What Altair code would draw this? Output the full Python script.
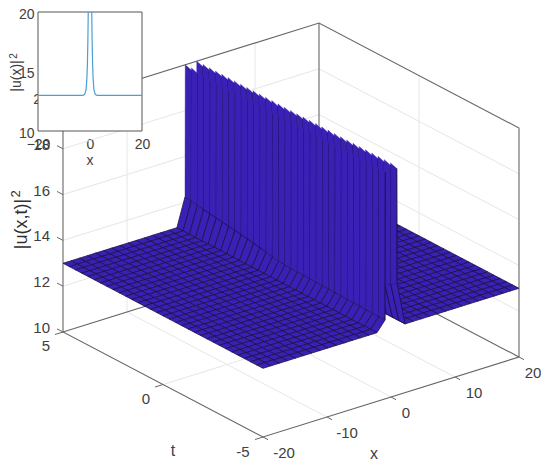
import altair as alt
import pandas as pd

# --- data -------------------------------------------------------------
x_left = [-20.0, -18.73, -17.46, -16.19, -14.91, -13.64, -12.37, -11.1, -9.83, -8.56, -7.29, -6.01, -4.74, -3.47, -2.2]
x_right = [2.2, 3.47, 4.74, 6.01, 7.29, 8.56, 9.83, 11.1, 12.37, 13.64, 14.91, 16.19, 17.46, 18.73, 20.0]
x_shoulder = 0.94
x_clip = 0.9
t_nodes = [5.0, 4.6875, 4.375, 4.0625, 3.75, 3.4375, 3.125, 2.8125, 2.5, 2.1875, 1.875, 1.5625, 1.25, 0.9375, 0.625, 0.3125, 0.0,
           -0.3125, -0.625, -0.9375, -1.25, -1.5625, -1.875, -2.1875, -2.5, -2.8125, -3.125, -3.4375, -3.75, -4.0625, -4.375, -4.6875, -5.0]
z_floor = 13.0
z_top_high = 20.0
z_top_low = 19.9
z_left = [14.23, 14.19, 14.15, 14.11, 14.07, 14.03, 13.99, 13.95, 13.91, 13.87, 13.83, 13.78, 13.73, 13.68, 13.62, 13.58, 13.55,
          13.54, 13.53, 13.53, 13.52, 13.51, 13.51, 13.5, 13.49, 13.49, 13.48, 13.47, 13.47, 13.46, 13.45, 13.45, 13.44]
z_right = [14.6] * 31 + [14.7, 14.9]

x_ticks = [-20, -10, 0, 10, 20]
t_ticks = [-5, 0, 5]
z_ticks = [10, 12, 14, 16, 18, 20]

inset_left_x = [-20, -10, -5, -3, -2.5, -2, -1.5, -1.2, -1, -0.85, -0.75, -0.68]
inset_left_y = [13, 13, 13, 13, 13.02, 13.1, 13.5, 14.4, 15.6, 17.2, 18.6, 20]
inset_right_x = [0.68, 0.75, 0.85, 1, 1.2, 1.5, 2, 2.5, 3, 5, 10, 20]
inset_right_y = [20, 18.6, 17.2, 15.6, 14.4, 13.5, 13.1, 13.02, 13, 13, 13, 13]

FILL = "#3a20b4"
MESH = "#1b1148"
AXIS = "#666666"
GRID = "#e6e6e6"
TEXT = "#404040"
FONT = "Liberation Sans"


def project(x, t, z):
    """Fixed 3-D view of the (x, t, z) box, in picture pixels."""
    return [263 + (x + 20) * 6.4 - (t + 5) * 20.0,
            437 - (x + 20) * 2.0 - (t + 5) * 10.5 - (z - 10) * 22.9]


features = []


def line(points, stroke, width):
    features.append({"type": "Feature",
                     "properties": {"fill": "none", "stroke": stroke, "sw": width},
                     "geometry": {"type": "LineString", "coordinates": [project(*p) for p in points]}})


def quad(points, stroke, width=0.8):
    ring = [project(*p) for p in points]
    ring.append(ring[0])
    features.append({"type": "Feature",
                     "properties": {"fill": FILL, "stroke": stroke, "sw": width},
                     "geometry": {"type": "Polygon", "coordinates": [ring]}})


# grid on the floor and the two back walls
for z in z_ticks[1:-1]:
    line([(-20, 5, z), (20, 5, z), (20, -5, z)], GRID, 1)
for x in x_ticks[1:-1]:
    line([(x, -5, 10), (x, 5, 10), (x, 5, 20)], GRID, 1)
for t in t_ticks[1:-1]:
    line([(-20, t, 10), (20, t, 10), (20, t, 20)], GRID, 1)

# box
line([(-20, 5, 20), (-20, 5, 10), (-20, -5, 10), (20, -5, 10), (20, -5, 20), (20, 5, 20), (-20, 5, 20)], AXIS, 1.1)
line([(-20, 5, 10), (20, 5, 10), (20, -5, 10)], AXIS, 1.1)
line([(20, 5, 10), (20, 5, 20)], AXIS, 1.1)

# ticks
for x in x_ticks:
    line([(x, -5, 10), (x, -5.25, 10)], AXIS, 1)
for t in t_ticks:
    line([(-20, t, 10), (-21.25, t, 10)], AXIS, 1)
for z in z_ticks:
    line([(-20, 5, z), (-20, 5.3, z)], AXIS, 1)

cells = range(len(t_nodes) - 1)

# surface, painted from far to near
for a, b in reversed(list(zip(x_right[:-1], x_right[1:]))):
    for i in cells:
        quad([(a, t_nodes[i], z_floor), (b, t_nodes[i], z_floor), (b, t_nodes[i + 1], z_floor), (a, t_nodes[i + 1], z_floor)], MESH)
for i in cells:
    quad([(x_shoulder, t_nodes[i], z_right[i]), (x_right[0], t_nodes[i], z_floor),
          (x_right[0], t_nodes[i + 1], z_floor), (x_shoulder, t_nodes[i + 1], z_right[i + 1])], MESH)
for i in cells:
    quad([(x_shoulder, t_nodes[i], z_right[i]), (x_clip, t_nodes[i], z_top_high),
          (x_clip, t_nodes[i + 1], z_top_low), (x_shoulder, t_nodes[i + 1], z_right[i + 1])], FILL, 0.4)
    line([(x_shoulder, t_nodes[i + 1], z_right[i + 1]), (x_clip, t_nodes[i + 1], z_top_low)], MESH, 1)
for i in cells:
    quad([(-x_shoulder, t_nodes[i], z_left[i]), (-x_clip, t_nodes[i], z_top_high),
          (-x_clip, t_nodes[i + 1], z_top_low), (-x_shoulder, t_nodes[i + 1], z_left[i + 1])], FILL, 0.4)
    line([(-x_shoulder, t_nodes[i + 1], z_left[i + 1]), (-x_clip, t_nodes[i + 1], z_top_low)], MESH, 1)
for i in cells:
    quad([(x_left[-1], t_nodes[i], z_floor), (-x_shoulder, t_nodes[i], z_left[i]),
          (-x_shoulder, t_nodes[i + 1], z_left[i + 1]), (x_left[-1], t_nodes[i + 1], z_floor)], MESH)
for a, b in reversed(list(zip(x_left[:-1], x_left[1:]))):
    for i in cells:
        quad([(a, t_nodes[i], z_floor), (b, t_nodes[i], z_floor), (b, t_nodes[i + 1], z_floor), (a, t_nodes[i + 1], z_floor)], MESH)

proj = dict(type="identity", scale=1, translate=[-8, -8])

surface = alt.Chart(alt.Data(values=features)).mark_geoshape().encode(
    fill=alt.Fill("properties.fill:N", scale=None),
    stroke=alt.Stroke("properties.stroke:N", scale=None),
    strokeWidth=alt.StrokeWidth("properties.sw:Q", scale=None),
).project(**proj)

# tick labels of the main axes
rows = []
x_shift = {-20: 21, -10: 20, 0: 15, 10: 19, 20: 14}
for x in x_ticks:
    p = project(x, -5, 10)
    rows.append({"px": p[0] + x_shift[x], "py": p[1] + 16, "label": str(x)})
t_shift = {-5: (-20, 15), 0: (-17, 14), 5: (-17, 14)}
for t in t_ticks:
    p = project(-20, t, 10)
    rows.append({"px": p[0] + t_shift[t][0], "py": p[1] + t_shift[t][1], "label": str(t)})
main_labels = alt.Chart(pd.DataFrame(rows)).mark_text(
    font=FONT, fontSize=15, color=TEXT, align="center", baseline="middle"
).encode(longitude="px:Q", latitude="py:Q", text="label:N").project(**proj)

z_rows = []
for z in z_ticks:
    p = project(-20, 5, z)
    z_rows.append({"px": p[0] - 13, "py": p[1] - 4, "label": str(z)})
z_labels = alt.Chart(pd.DataFrame(z_rows)).mark_text(
    font=FONT, fontSize=15, color=TEXT, align="right", baseline="middle"
).encode(longitude="px:Q", latitude="py:Q", text="label:N").project(**proj)

titles = alt.Chart(pd.DataFrame([
    {"px": 173, "py": 451, "label": "t"},
    {"px": 374, "py": 454, "label": "x"},
])).mark_text(font=FONT, fontSize=16, color=TEXT, align="center", baseline="middle").encode(
    longitude="px:Q", latitude="py:Q", text="label:N").project(**proj)

z_title = alt.Chart(pd.DataFrame([{"px": 22, "py": 224, "label": "|u(x,t)|"}])).mark_text(
    font=FONT, fontSize=18, color="#303030", align="center", baseline="middle", angle=270
).encode(longitude="px:Q", latitude="py:Q", text="label:N").project(**proj)
z_title_sup = alt.Chart(pd.DataFrame([{"px": 16, "py": 194, "label": "2"}])).mark_text(
    font=FONT, fontSize=13, color="#303030", align="center", baseline="middle", angle=270
).encode(longitude="px:Q", latitude="py:Q", text="label:N").project(**proj)

# inset
H = 454
inset_sx = alt.Scale(domain=[-20, 20], range=[30, 134], nice=False, zero=False)
inset_sy = alt.Scale(domain=[10, 20], range=[123, 4], nice=False, zero=False)
inset_ax = alt.Axis(values=[-20, 0, 20], orient="bottom", offset=-(H - 123), tickSize=0, domain=False, grid=False,
                    labelFont=FONT, labelFontSize=14, labelColor=TEXT, labelPadding=6, title=None, labelFlush=False,
                    labelOverlap=False, format="d")
inset_ay = alt.Axis(values=[10, 15, 20], orient="left", offset=-30, tickSize=0, domain=False, grid=False,
                    labelFont=FONT, labelFontSize=14, labelColor=TEXT, labelPadding=4, title=None,
                    labelOverlap=False, format="d", labelOffset=2)

inset_bg = alt.Chart(pd.DataFrame({"a": [-20], "b": [20], "c": [10], "d": [20]})).mark_rect(
    fill="white", stroke="#555555", strokeWidth=1
).encode(
    x=alt.X("a:Q", scale=inset_sx, axis=inset_ax),
    x2="b:Q",
    y=alt.Y("c:Q", scale=inset_sy, axis=inset_ay),
    y2="d:Q",
)

curve = pd.DataFrame({
    "x": inset_left_x + inset_right_x,
    "y": inset_left_y + inset_right_y,
    "branch": ["left"] * len(inset_left_x) + ["right"] * len(inset_right_x),
})
inset_line = alt.Chart(curve).mark_line(color="#4a9fd4", strokeWidth=1.2).encode(
    x=alt.X("x:Q", scale=inset_sx, axis=inset_ax),
    y=alt.Y("y:Q", scale=inset_sy, axis=inset_ay),
    detail="branch:N",
)

inset_x_title = alt.Chart(pd.DataFrame([{"px": 90, "py": 161, "label": "x"}])).mark_text(
    font=FONT, fontSize=14, color=TEXT, align="center", baseline="middle"
).encode(longitude="px:Q", latitude="py:Q", text="label:N").project(**proj)
inset_y_title = alt.Chart(pd.DataFrame([{"px": 17, "py": 76, "label": "|u(x)|"}])).mark_text(
    font=FONT, fontSize=14, color=TEXT, align="center", baseline="middle", angle=270
).encode(longitude="px:Q", latitude="py:Q", text="label:N").project(**proj)
inset_y_sup = alt.Chart(pd.DataFrame([{"px": 14, "py": 56, "label": "2"}])).mark_text(
    font=FONT, fontSize=10, color=TEXT, align="center", baseline="middle", angle=270
).encode(longitude="px:Q", latitude="py:Q", text="label:N").project(**proj)

chart = alt.layer(
    surface, main_labels, z_labels, titles, z_title, z_title_sup,
    inset_bg, inset_line, inset_x_title, inset_y_title, inset_y_sup,
).properties(
    width=534, height=H, padding=0,
    autosize=alt.AutoSizeParams(type="none"),
    background="white",
).configure_view(stroke=None)

chart.save("out.html", embed_options={"renderer": "svg", "actions": False})
